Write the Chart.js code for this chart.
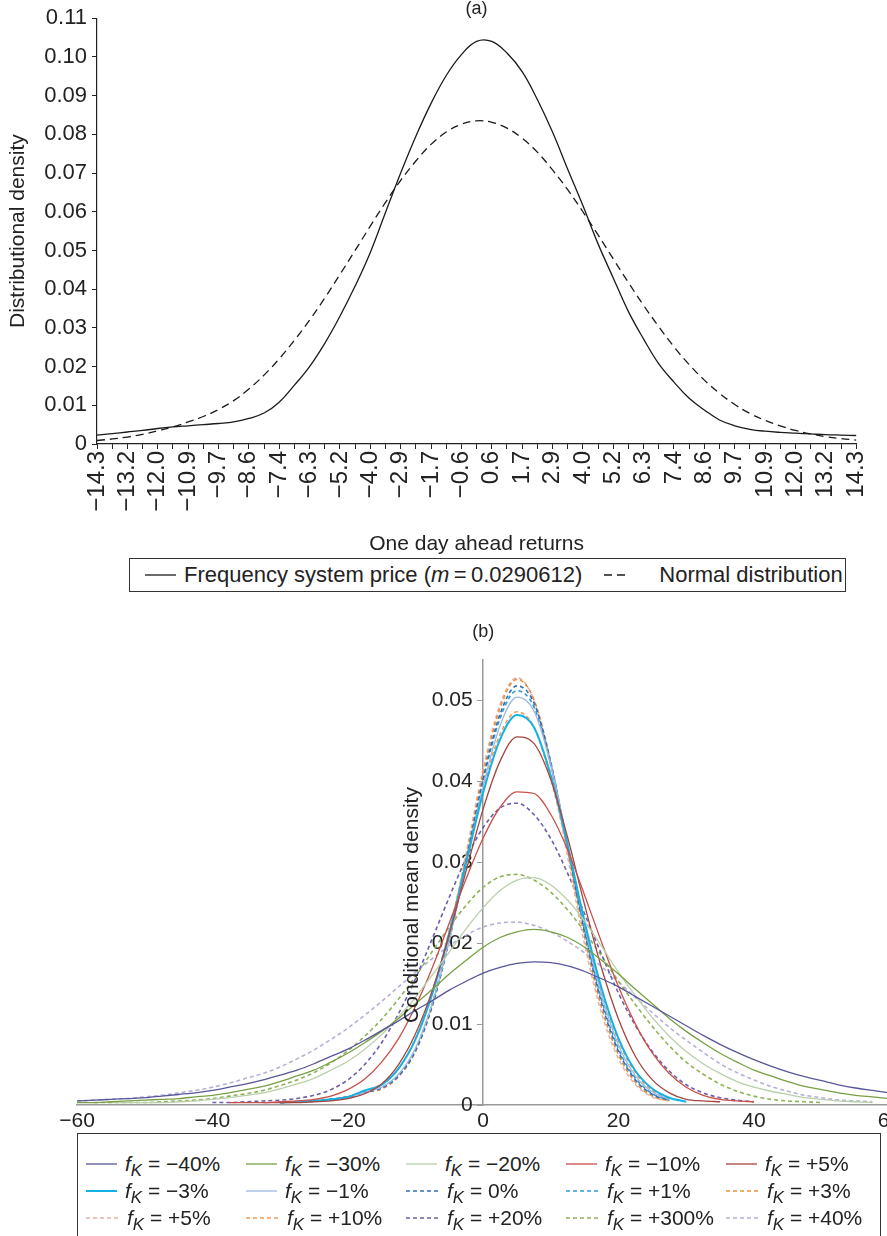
<!DOCTYPE html>
<html>
<head>
<meta charset="utf-8">
<title>Return densities</title>
<script src="https://cdn.jsdelivr.net/npm/chart.js@4.4.1/dist/chart.umd.min.js"></script>
<style>
  html, body { margin: 0; padding: 0; background: #fff; }
  body {
    width: 887px; height: 1236px; overflow: hidden; position: relative;
    font-family: "Liberation Sans", Arial, sans-serif; color: #222;
  }
  canvas { position: absolute; left: 0; }
  #chartA { top: 0; }
  #chartB { top: 612px; }
  .legend {
    position: absolute; box-sizing: border-box; background: #fff;
    border: 1.5px solid #333; white-space: nowrap;
  }
  #legendA {
    left: 129px; top: 558px; width: 717px; height: 34px;
    display: flex; align-items: center; padding-left: 15px; font-size: 22px;
  }
  #legendA .item + .item { margin-left: 22px; }
  #legendA .item + .item svg { margin-right: 33px; }
  #legendB {
    left: 77px; top: 1133px; width: 804px; height: 112px;
    display: grid; grid-template-columns: repeat(5, 160px); grid-auto-rows: 27px;
    padding: 16px 0 0 8px; font-size: 21px;
  }
  .item { display: flex; align-items: center; }
  .item svg { margin-right: 8px; flex: none; }
  sub { font-size: 0.8em; vertical-align: -0.3em; line-height: 0; }
</style>
</head>
<body>
<canvas id="chartA" width="887" height="560"></canvas>
<div id="legendA" class="legend"></div>
<canvas id="chartB" width="905" height="530"></canvas>
<div id="legendB" class="legend"></div>

<script>
// ---- panel (a): one day ahead returns ----
const returnLabels = ['−14.3', '−13.2', '−12.0', '−10.9', '−9.7', '−8.6', '−7.4', '−6.3', '−5.2',
  '−4.0', '−2.9', '−1.7', '−0.6', '0.6', '1.7', '2.9', '4.0', '5.2', '6.3', '7.4', '8.6', '9.7',
  '10.9', '12.0', '13.2', '14.3'];

// one value per tick (labelled ticks alternate with unlabelled ones)
const freqPrice = [0.0023, 0.0027, 0.0031, 0.0035, 0.0040, 0.0044, 0.0047, 0.0050, 0.0053, 0.0057,
  0.0066, 0.0080, 0.0108, 0.0152, 0.0200, 0.0260, 0.0330, 0.0408, 0.0495, 0.0598,
  0.0700, 0.0795, 0.0880, 0.0952, 0.1006, 0.1040, 0.1040, 0.1010, 0.0962, 0.0890,
  0.0806, 0.0710, 0.0616, 0.0517, 0.0429, 0.0342, 0.0271, 0.0207, 0.0160, 0.0118,
  0.0088, 0.0062, 0.0047, 0.0038, 0.0033, 0.0030, 0.0028, 0.0026, 0.0024, 0.0023, 0.0022];

const normalDensity = [0.0009, 0.0013, 0.0018, 0.0025, 0.0034, 0.0044, 0.0057, 0.0071, 0.0089, 0.0112,
  0.0142, 0.0178, 0.0220, 0.0268, 0.0320, 0.0377, 0.0438, 0.0500, 0.0563, 0.0624,
  0.0681, 0.0731, 0.0774, 0.0806, 0.0826, 0.0835, 0.0831, 0.0816, 0.0790, 0.0754,
  0.0708, 0.0657, 0.0600, 0.0540, 0.0478, 0.0417, 0.0358, 0.0303, 0.0251, 0.0205,
  0.0165, 0.0131, 0.0102, 0.0079, 0.0061, 0.0047, 0.0035, 0.0026, 0.0019, 0.0014, 0.0010];

// ---- panel (b): conditional mean densities ----
const meanGrid = [-60, -57.5, -55, -52.5, -50, -47.5, -45, -42.5, -40, -37.5, -35, -32.5, -30,
  -27.5, -25, -22.5, -20, -17.5, -15, -12.5, -10, -7.5, -5, -2.5, 0, 2.5, 5, 7.5, 10, 12.5,
  15, 17.5, 20, 22.5, 25, 27.5, 30, 32.5, 35, 37.5, 40, 42.5, 45, 47.5, 50, 52.5, 55, 57.5, 60];

// each curve starts at the given grid value
const fkMinus40 = [-60, [0.0005, 0.0006, 0.0007, 0.0008, 0.0009, 0.0011, 0.0013, 0.0015, 0.0018, 0.0022,
  0.0026, 0.0031, 0.0037, 0.0043, 0.0051, 0.0060, 0.0069, 0.0080, 0.0092, 0.0104, 0.0117, 0.0129,
  0.0142, 0.0153, 0.0163, 0.0170, 0.0175, 0.0177, 0.0176, 0.0172, 0.0165, 0.0156, 0.0146, 0.0134,
  0.0122, 0.0110, 0.0098, 0.0086, 0.0075, 0.0065, 0.0056, 0.0048, 0.0041, 0.0035, 0.0030, 0.0025,
  0.0021, 0.0018, 0.0015]];
const fkMinus30 = [-60, [0.0003, 0.0003, 0.0004, 0.0005, 0.0006, 0.0007, 0.0008, 0.0010, 0.0012, 0.0015,
  0.0019, 0.0023, 0.0029, 0.0036, 0.0043, 0.0053, 0.0064, 0.0077, 0.0091, 0.0107, 0.0125, 0.0143,
  0.0162, 0.0179, 0.0195, 0.0207, 0.0214, 0.0217, 0.0214, 0.0207, 0.0195, 0.0179, 0.0162, 0.0143,
  0.0125, 0.0107, 0.0091, 0.0077, 0.0064, 0.0053, 0.0043, 0.0036, 0.0029, 0.0023, 0.0019, 0.0015,
  0.0012, 0.0010, 0.0008]];
const fkMinus20 = [-55, [0.0003, 0.0003, 0.0003, 0.0003, 0.0004, 0.0005, 0.0007, 0.0009, 0.0012, 0.0015,
  0.0020, 0.0026, 0.0033, 0.0043, 0.0054, 0.0069, 0.0087, 0.0109, 0.0133, 0.0161, 0.0189, 0.0218,
  0.0244, 0.0265, 0.0278, 0.0281, 0.0272, 0.0253, 0.0227, 0.0196, 0.0164, 0.0135, 0.0108, 0.0085,
  0.0066, 0.0051, 0.0039, 0.0029, 0.0022, 0.0017, 0.0013, 0.0009, 0.0007, 0.0005, 0.0004, 0.0003]];
const fkMinus10 = [-37.5, [0.0003, 0.0003, 0.0003, 0.0004, 0.0005, 0.0007, 0.0011, 0.0019, 0.0032, 0.0053,
  0.0082, 0.0122, 0.0170, 0.0225, 0.0280, 0.0330, 0.0368, 0.0387, 0.0385, 0.0359, 0.0315, 0.0259,
  0.0201, 0.0146, 0.0100, 0.0064, 0.0039, 0.0022, 0.0012, 0.0007, 0.0005, 0.0004]];
const fkPlus5Solid = [-32.5, [0.0003, 0.0003, 0.0003, 0.0004, 0.0005, 0.0008, 0.0014, 0.0026, 0.0050,
  0.0088, 0.0142, 0.0211, 0.0290, 0.0366, 0.0425, 0.0455, 0.0447, 0.0402, 0.0330, 0.0247, 0.0169,
  0.0106, 0.0060, 0.0031, 0.0015, 0.0007, 0.0005, 0.0004]];
const fkMinus3 = [-30, [0.0003, 0.0004, 0.0005, 0.0007, 0.0010, 0.0018, 0.0025, 0.0045, 0.0081, 0.0138,
  0.0213, 0.0300, 0.0386, 0.0452, 0.0482, 0.0467, 0.0407, 0.0320, 0.0226, 0.0144, 0.0082, 0.0042,
  0.0020, 0.0009, 0.0004]];
const fkMinus1 = [-30, [0.0003, 0.0004, 0.0005, 0.0007, 0.0010, 0.0016, 0.0022, 0.0038, 0.0070, 0.0126,
  0.0204, 0.0298, 0.0394, 0.0469, 0.0504, 0.0487, 0.0420, 0.0323, 0.0222, 0.0136, 0.0074, 0.0036,
  0.0016, 0.0007]];
const fkZero = [-30, [0.0003, 0.0004, 0.0005, 0.0007, 0.0010, 0.0016, 0.0021, 0.0036, 0.0067, 0.0123,
  0.0204, 0.0302, 0.0403, 0.0483, 0.0518, 0.0497, 0.0423, 0.0319, 0.0213, 0.0126, 0.0066, 0.0031,
  0.0013, 0.0006]];
const fkPlus1 = [-30, [0.0003, 0.0004, 0.0005, 0.0007, 0.0010, 0.0016, 0.0022, 0.0037, 0.0069, 0.0126,
  0.0206, 0.0303, 0.0401, 0.0478, 0.0512, 0.0492, 0.0421, 0.0320, 0.0216, 0.0130, 0.0069, 0.0033,
  0.0014, 0.0006]];
const fkPlus3 = [-30, [0.0003, 0.0004, 0.0005, 0.0007, 0.0010, 0.0016, 0.0020, 0.0035, 0.0066, 0.0123,
  0.0205, 0.0306, 0.0410, 0.0491, 0.0526, 0.0501, 0.0423, 0.0314, 0.0207, 0.0120, 0.0062, 0.0028,
  0.0011, 0.0005]];
const fkPlus5Dashed = [-30, [0.0003, 0.0004, 0.0005, 0.0007, 0.0010, 0.0016, 0.0020, 0.0036, 0.0068,
  0.0126, 0.0209, 0.0312, 0.0415, 0.0495, 0.0528, 0.0500, 0.0417, 0.0306, 0.0198, 0.0113, 0.0057,
  0.0025, 0.0010, 0.0005]];
const fkPlus10 = [-30, [0.0003, 0.0004, 0.0005, 0.0007, 0.0010, 0.0017, 0.0026, 0.0045, 0.0082, 0.0139,
  0.0216, 0.0306, 0.0392, 0.0458, 0.0486, 0.0467, 0.0403, 0.0314, 0.0220, 0.0139, 0.0079, 0.0040,
  0.0018, 0.0008]];
const fkPlus20 = [-40, [0.0003, 0.0003, 0.0004, 0.0005, 0.0006, 0.0008, 0.0012, 0.0019, 0.0031, 0.0050,
  0.0077, 0.0113, 0.0156, 0.0206, 0.0257, 0.0305, 0.0343, 0.0367, 0.0373, 0.0359, 0.0329, 0.0286,
  0.0236, 0.0186, 0.0138, 0.0098, 0.0066, 0.0042, 0.0025, 0.0015, 0.0009, 0.0006, 0.0004]];
const fkPlus300 = [-57.5, [0.0003, 0.0003, 0.0003, 0.0003, 0.0004, 0.0005, 0.0006, 0.0008, 0.0011, 0.0014,
  0.0018, 0.0024, 0.0031, 0.0040, 0.0052, 0.0067, 0.0085, 0.0106, 0.0131, 0.0159, 0.0190, 0.0220,
  0.0247, 0.0269, 0.0282, 0.0285, 0.0278, 0.0263, 0.0241, 0.0214, 0.0184, 0.0153, 0.0124, 0.0097,
  0.0073, 0.0053, 0.0038, 0.0026, 0.0017, 0.0011, 0.0007, 0.0005, 0.0004, 0.0003]];
const fkPlus40 = [-60, [0.0005, 0.0006, 0.0007, 0.0008, 0.0010, 0.0012, 0.0015, 0.0018, 0.0022, 0.0027,
  0.0033, 0.0039, 0.0047, 0.0057, 0.0068, 0.0081, 0.0095, 0.0111, 0.0128, 0.0146, 0.0164, 0.0181,
  0.0197, 0.0210, 0.0220, 0.0225, 0.0226, 0.0222, 0.0214, 0.0202, 0.0188, 0.0171, 0.0152, 0.0133,
  0.0114, 0.0096, 0.0080, 0.0065, 0.0051, 0.0040, 0.0031, 0.0023, 0.0017, 0.0012, 0.0009, 0.0006,
  0.0005, 0.0004]];

// legend order, row by row
const fkSeries = [fkMinus40, fkMinus30, fkMinus20, fkMinus10, fkPlus5Solid, fkMinus3, fkMinus1, fkZero,
  fkPlus1, fkPlus3, fkPlus5Dashed, fkPlus10, fkPlus20, fkPlus300, fkPlus40];
const fkLabels = ['−40%', '−30%', '−20%', '−10%', '+5%', '−3%', '−1%', '0%', '+1%', '+3%',
  '+5%', '+10%', '+20%', '+300%', '+40%'];
const fkColors = ['#57579a', '#77a046', '#b9d0ab', '#c8504b', '#a6443e', '#14b2e2', '#9fb9e2',
  '#2f6fb6', '#2e9ad8', '#e9913f', '#e8b2a6', '#f19a55', '#6a60aa', '#8db356', '#b5b0d6'];
const fkDashed = [false, false, false, false, false, false, false, true, true, true,
  true, true, true, true, true];

const FONT = '"Liberation Sans", Arial, sans-serif';
const INK = '#222';
Chart.defaults.font.family = FONT;
Chart.defaults.color = INK;

// pad a curve with nulls up to its first grid value
function onGrid([start, values]) {
  const lead = meanGrid.indexOf(start);
  return Array(lead).fill(null).concat(values);
}

function legendItem(color, width, dash, html) {
  const item = document.createElement('div');
  item.className = 'item';
  const w = dash.length && dash[0] > 5 ? 22 : (dash.length ? 33 : 31);
  item.innerHTML =
    `<svg width="${w}" height="10"><line x1="0" y1="5" x2="${w}" y2="5" stroke="${color}" ` +
    `stroke-width="${width}" stroke-dasharray="${dash.join(' ')}"/></svg><span>${html}</span>`;
  return item;
}

// ---------- chart (a) ----------
const categoriesA = returnLabels.flatMap((t, i) => i < returnLabels.length - 1 ? [t, ''] : [t]);

const chartA = new Chart(document.getElementById('chartA'), {
  type: 'line',
  data: {
    labels: categoriesA,
    datasets: [
      { label: 'Frequency system price (m = 0.0290612)', data: freqPrice,
        borderColor: '#1a1a1a', borderWidth: 1.3, borderDash: [] },
      { label: 'Normal distribution', data: normalDensity,
        borderColor: '#1a1a1a', borderWidth: 1.3, borderDash: [8, 5] }
    ]
  },
  options: {
    responsive: false,
    animation: false,
    devicePixelRatio: 1,
    layout: { padding: { left: 0, right: 13, top: 0, bottom: 0 } },
    elements: { point: { radius: 0 }, line: { tension: 0.4, fill: false } },
    plugins: {
      legend: { display: false },
      tooltip: { enabled: false },
      title: { display: true, text: '(a)', fullSize: false, color: INK,
        font: { size: 18, weight: 'normal', lineHeight: 1 }, padding: { top: 0, bottom: 0 } }
    },
    scales: {
      x: {
        type: 'category',
        offset: false,
        border: { color: INK, width: 1.2 },
        grid: { drawOnChartArea: false, tickLength: 5, color: INK, lineWidth: 1 },
        ticks: { autoSkip: false, minRotation: 90, maxRotation: 90, padding: 2, font: { size: 24 } },
        title: { display: true, text: 'One day ahead returns', font: { size: 21 },
          padding: { top: 0, bottom: 3 } },
        afterFit: s => { s.height = 116; }
      },
      y: {
        min: 0, max: 0.11,
        border: { color: INK, width: 1.2 },
        grid: { drawOnChartArea: false, tickLength: 5, color: INK, lineWidth: 1 },
        ticks: { stepSize: 0.01, padding: 5, font: { size: 22 },
          callback: v => Math.abs(v) < 1e-9 ? '0' : v.toFixed(2) },
        title: { display: true, text: 'Distributional density', font: { size: 21 },
          padding: { top: 6, bottom: 0 } },
        afterFit: s => { s.width = 97; }
      }
    }
  }
});

const legendA = document.getElementById('legendA');
chartA.data.datasets.forEach(ds => {
  const html = ds.label.replace('m = ', '<i>m</i>&#8201;=&#8201;');
  legendA.appendChild(legendItem(ds.borderColor, ds.borderWidth, ds.borderDash, html));
});

// ---------- chart (b) ----------
// rotated axis title, drawn beside the centred y axis
const sideTitle = {
  id: 'sideTitle',
  afterDraw(chart, args, opts) {
    const { ctx, chartArea, scales } = chart;
    ctx.save();
    ctx.translate(scales.x.getPixelForValue(0) - opts.gap, chartArea.bottom - opts.rise);
    ctx.rotate(-Math.PI / 2);
    ctx.font = `21px ${FONT}`;
    ctx.fillStyle = INK;
    ctx.textAlign = 'center';
    ctx.textBaseline = 'middle';
    ctx.fillText(opts.text, 0, 0);
    ctx.restore();
  }
};

const datasetsB = fkSeries.map((s, i) => ({
  label: fkLabels[i],
  data: onGrid(s),
  borderColor: fkColors[i],
  borderWidth: i === 5 ? 2 : (fkDashed[i] ? 1.6 : 1.3),
  borderDash: fkDashed[i] ? [4, 3] : []
}));

const chartB = new Chart(document.getElementById('chartB'), {
  type: 'line',
  data: { labels: meanGrid, datasets: datasetsB },
  plugins: [sideTitle],
  options: {
    responsive: false,
    animation: false,
    devicePixelRatio: 1,
    spanGaps: false,
    layout: { padding: { left: 77, right: 15, top: 0, bottom: 0 } },
    elements: { point: { radius: 0 }, line: { cubicInterpolationMode: 'monotone', fill: false } },
    plugins: {
      legend: { display: false },
      tooltip: { enabled: false },
      title: { display: true, text: '(b)', fullSize: false, color: INK,
        font: { size: 18, weight: 'normal', lineHeight: 1 }, padding: { top: 11, bottom: 19 } },
      sideTitle: { text: 'Conditional mean density', gap: 71, rise: 200 }
    },
    scales: {
      x: {
        type: 'linear',
        min: -60, max: 60,
        border: { color: '#9a9a9a', width: 1.5 },
        grid: { drawOnChartArea: false, drawTicks: false },
        ticks: { stepSize: 20, padding: 4, font: { size: 21 },
          callback: v => (v < 0 ? '−' + Math.abs(v) : String(v)) },
        afterFit: s => { s.height = 37; }
      },
      y: {
        position: { x: 0 },
        min: 0, max: 0.055,
        border: { color: '#9a9a9a', width: 1.5 },
        grid: { drawOnChartArea: false, tickLength: 5, color: '#9a9a9a' },
        // labels of a centred axis sit flush against it, an en space keeps them clear of the ticks
        ticks: { stepSize: 0.01, font: { size: 21 },
          callback: v => (Math.abs(v) < 1e-9 ? '0' : v.toFixed(2)) + '\u2002' },
        afterBuildTicks: s => { s.ticks = s.ticks.filter(t => t.value < 0.0505); }
      }
    }
  }
});

const legendB = document.getElementById('legendB');
chartB.data.datasets.forEach(ds => {
  const html = `<i>f</i><sub><i>K</i></sub>&nbsp;= ${ds.label}`;
  legendB.appendChild(legendItem(ds.borderColor, ds.borderWidth, ds.borderDash, html));
});
</script>
</body>
</html>
